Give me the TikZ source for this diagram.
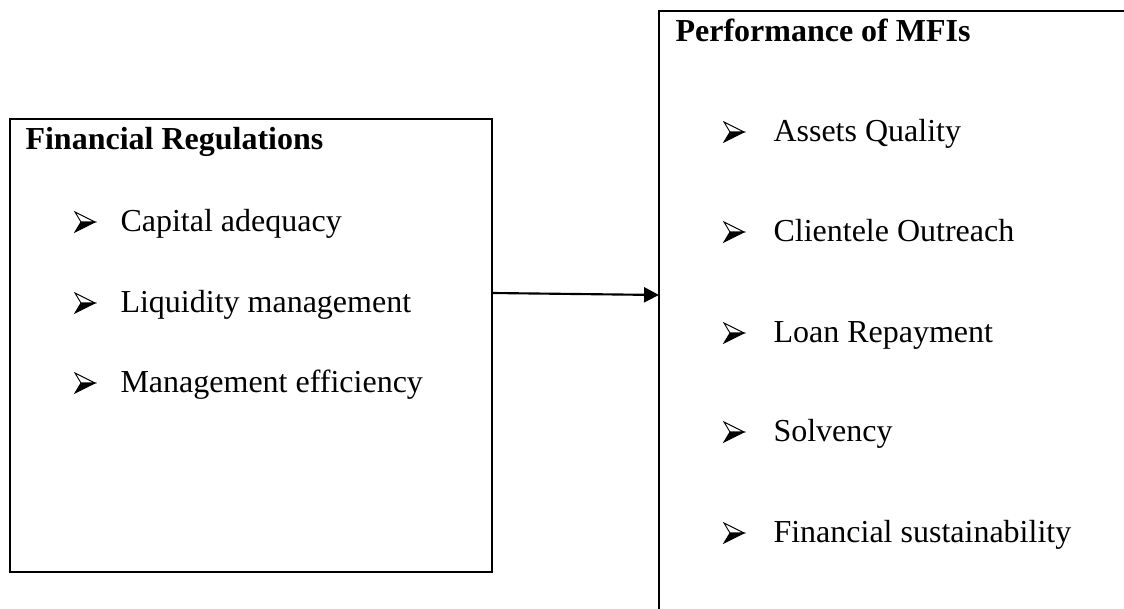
\documentclass[tikz,border=0pt]{standalone}
\usepackage{fontspec}
\setmainfont{Liberation Serif}
\usetikzlibrary{arrows.meta,positioning}

\begin{document}
\begin{tikzpicture}[x=0.375pt,y=-0.375pt,>={Triangle[length=5.6pt,width=5.6pt]},
    every node/.style={inner sep=0pt,font=\fontsize{12}{14}\selectfont},
    heading/.style={anchor=base west,font=\fontsize{12}{14}\selectfont\bfseries},
    itemtext/.style={anchor=base west},
    boxline/.style={line width=0.9pt}]
\tikzset{arrowbullet/.pic={
    % wingdings style arrow head, upper half open, lower half filled
    \draw[line width=0.35pt,fill=white] (10,-10) -- (-10,-20) -- (-4,-10) -- cycle;
    \draw[line width=0.35pt,fill=black] (10,-10) -- (-4,-10) -- (-10,0) -- cycle;
}}
\useasboundingbox (0,0) rectangle (1124,609);

% left box
\draw[boxline] (10,119) rectangle (492,572);
\node[heading] (fr) at (25,150) {Financial Regulations};
\foreach \y/\name/\txt in {232/cap/Capital adequacy,
                           313/liq/Liquidity management,
                           393/mgt/Management efficiency}{
  \pic at (85,\y) {arrowbullet};
  \node[itemtext] (\name) at (120,\y) {\txt};
}

% right box (runs off the page)
\draw[boxline] (1130,11) -- (659,11) -- (659,615);
\node[heading] (perf) at (675,42) {Performance of MFIs};
\foreach \y/\name/\txt in {142/aq/Assets Quality,
                           242/co/Clientele Outreach,
                           343/lr/Loan Repayment,
                           442/sol/Solvency,
                           543/fs/Financial sustainability}{
  \pic at (734,\y) {arrowbullet};
  \node[itemtext] (\name) at (773,\y) {\txt};
}

\coordinate (from) at (492,293);
\coordinate (to) at (659,295);
\draw[line width=0.8pt,->] (from) -- (to);
\end{tikzpicture}
\end{document}
